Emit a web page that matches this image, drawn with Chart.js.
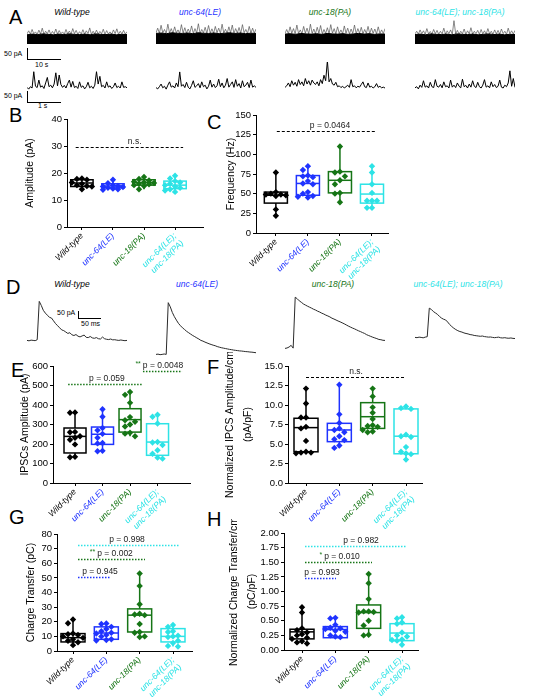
<!DOCTYPE html>
<html>
<head>
<meta charset="utf-8">
<script src="https://cdn.jsdelivr.net/npm/chart.js@4.4.0/dist/chart.umd.min.js"></script>
<style>
  body { margin: 0; width: 550px; height: 700px; position: relative; overflow: hidden; background: #fff;
         font-family: 'Liberation Sans', Arial, sans-serif; color: #000; }
  .letter { position: absolute; font-size: 20px; line-height: 20px; }
  .ttl { position: absolute; font-style: italic; font-size: 8.5px; line-height: 10px; white-space: nowrap; transform: translateX(-50%); }
  .sb { position: absolute; border-left: 1px solid #000; border-bottom: 1px solid #000; }
  .sbt { position: absolute; font-size: 7px; line-height: 8px; white-space: nowrap; }
</style>
</head>
<body>
<div class="letter" style="left:9px;top:7px">A</div>
<div class="letter" style="left:9px;top:105px">B</div>
<div class="letter" style="left:207px;top:112px">C</div>
<div class="letter" style="left:6px;top:277px">D</div>
<div class="letter" style="left:11px;top:360px">E</div>
<div class="letter" style="left:207px;top:357px">F</div>
<div class="letter" style="left:9px;top:507px">G</div>
<div class="letter" style="left:207px;top:509px">H</div>

<!-- scale bars -->
<div class="sb" style="left:27px;top:48px;width:33px;height:11px"></div>
<div class="sbt" style="left:4px;top:50px">50 pA</div>
<div class="sbt" style="left:35px;top:61px">10 s</div>
<div class="sb" style="left:27px;top:91px;width:33px;height:11px"></div>
<div class="sbt" style="left:4px;top:92px">50 pA</div>
<div class="sbt" style="left:38px;top:102px">1 s</div>
<div class="sb" style="left:78px;top:311px;width:22px;height:7px"></div>
<div class="sbt" style="left:57px;top:309px">50 pA</div>
<div class="sbt" style="left:81px;top:320px">50 ms</div>

<script>
// groups
const groupNames = ['Wild-type', 'unc-64(LE)', 'unc-18(PA)', 'unc-64(LE);  unc-18(PA)'];
const axisNames = ['Wild-type', 'unc-64(LE)', 'unc-18(PA)', ['unc-64(LE);', 'unc-18(PA)']];
const groupColors = ['#000000', '#1f33ff', '#167516', '#2de3e6'];

// A: 10 s traces (pA above band bottom) - dark core band and spikes
const aCoreWT   = [42,45,43,46,44,42,45,43,46,44,43,45,42,46,44,43,45,42,44,43];
const aCore64   = [48,50,47,51,49,48,50,47,51,49,48,50,47,49,51,48,50,47,49,48];
const aCore18   = [45,47,44,48,46,45,47,44,48,46,45,47,44,46,48,45,47,44,46,45];
const aCoreDbl  = [43,45,42,46,44,43,45,42,46,44,43,45,42,44,46,43,45,42,44,43];
const aSpikeWT  = [46,60,45,66,47,55,44,63,46,72,45,58,47,64,44,57,46,68,45,61,47,55,44,66,46,59,45,70,47,62,44,56,46,65,45,60,47,73,44,58,46,63,45,57,47,67,44,61,46,55,45,64,47,69,44,58,46,62,45,56];
const aSpike64  = [50,72,49,85,51,66,48,90,50,70,49,78,51,64,48,88,50,74,49,68,51,82,48,70,50,92,49,66,51,76,48,84,50,69,49,80,51,72,48,90,50,67,49,78,51,86,48,70,50,75,49,88,51,66,48,80,50,72,49,68];
const aSpike18  = [48,66,47,78,49,70,46,86,48,64,47,80,49,72,46,90,48,68,47,76,49,84,46,66,48,74,47,88,49,70,46,78,48,64,47,82,49,72,46,68,48,86,47,70,49,76,46,66,48,80,47,72,49,68,46,78,48,64,47,70];
const aSpikeDbl = [46,58,45,64,47,60,44,70,46,57,45,66,47,62,44,58,46,72,45,60,47,64,44,106,46,62,45,58,47,68,44,60,46,74,45,58,47,62,44,66,46,60,45,70,47,58,44,64,46,62,45,68,47,58,44,72,46,60,45,62];

// A: 1 s traces (pA above baseline)
const a1sWT  = [5,-3,8,2,76,10,4,38,6,12,0,25,50,8,15,3,20,71,12,61,18,5,14,2,22,38,6,32,4,10,0,30,5,12,-2,8,28,3,10,0,15,76,20,55,8,14,2,30,6,12,0,8,25,4,10,2,30,5,8,3];
const a1s64  = [4,-2,8,20,3,10,-3,15,30,6,12,2,25,8,75,10,18,4,28,6,-2,14,35,5,12,22,3,30,8,15,-2,10,38,6,20,4,12,42,8,25,3,15,45,6,18,30,5,40,10,22,2,35,8,15,28,4,38,6,12,5];
const a1s18  = [5,12,25,8,35,15,28,10,40,18,30,12,45,20,35,15,38,25,18,30,12,40,22,60,35,126,30,45,20,15,28,8,12,4,10,2,8,15,5,40,8,12,3,10,6,18,30,8,4,25,6,10,2,8,22,5,10,3,6,2];
const a1sDbl = [3,8,-2,15,5,35,6,12,2,28,8,4,40,10,6,18,3,30,8,12,2,38,6,15,4,25,10,3,42,8,14,2,20,6,35,10,4,28,8,2,15,40,6,12,3,30,8,18,4,10,38,6,2,15,8,25,80,10,45,5];

// D: evoked IPSC traces (pA above baseline)
const dWT  = [0,-3,2,0,-2,5,279,250,215,195,180,165,160,140,120,105,90,75,70,60,50,55,40,35,42,30,25,32,38,22,20,28,18,15,20,12,10,24,12,8,6,10,4,5,2,0,3,0,-2,0];
const d64  = [0,2,-2,0,3,0,370,340,300,270,245,222,205,190,178,165,155,145,135,127,118,110,100,95,88,82,76,71,66,62,56,52,48,45,42,39,36,34,31,29,27,25,24,22,20,19,17,16,14,12];
const d18  = [0,3,10,22,2,366,355,340,330,318,310,302,295,288,280,274,266,260,252,246,238,232,225,216,210,203,196,190,183,176,168,160,153,146,140,133,126,120,113,107,98,92,86,80,75,70,64,62,58,57];
const dDbl = [0,-2,2,0,-3,2,5,209,200,185,175,165,150,138,130,125,110,92,78,66,56,48,42,38,32,28,25,20,18,14,12,10,8,10,6,4,2,3,0,-2,0,2,-3,-4,-2,-5,-6,-4,-7,-8];

// box plot panels: points per group and box [q1, median, q3]
const bPts = [[18.0,17.8,17.5,16.5,16.0,15.5,15.2,15.0,14.0],
              [17.5,16.2,15.5,15.2,15.0,14.8,14.5,14.2,14.0,13.8],
              [18.5,17.8,17.2,16.8,16.5,16.3,16.0,15.8,15.5,15.2,14.0],
              [19.0,18.0,17.0,16.5,16.0,15.5,15.0,14.5,14.0,13.5,13.0]];
const bBox = [[15.0,16.3,17.5],[14.5,15.2,16.0],[15.5,16.5,17.5],[14.2,15.5,17.0]];

const cPts = [[77,52,50,49,49,48,47,30,22],
              [85,80,73,72,71,66,63,62,52,50,47,46,45],
              [110,78,77,72,67,62,51,50,39],
              [85,77,62,51,41,41,41,32,32]];
const cBox = [[38,48,52],[48,63,73],[51,67,78],[38,49.5,62]];

const ePts = [[362,360,262,260,240,232,222,198,134,132],
              [378,340,282,270,252,232,205,203,165,163],
              [467,452,411,338,322,314,300,290,258,253,240],
              [350,340,305,210,208,195,168,150,130,125]];
const eBox = [[154,239,282],[198,250,287],[261,325,381],[142,210,304]];

const fPts = [[12.1,10.2,8.4,8.4,7.2,7.0,5.4,4.0,3.9,3.9,3.8],
              [12.6,8.8,7.7,7.0,6.8,6.5,6.0,5.6,5.5,4.8,4.5],
              [12.1,11.1,9.7,9.0,8.2,7.4,7.3,7.2,6.8,6.6,6.5],
              [9.8,9.6,9.5,6.2,6.0,5.9,4.6,4.0,3.8,3.7,3.0]];
const fBox = [[4.0,7.1,8.3],[5.3,6.8,7.65],[7.0,8.5,10.3],[3.75,6.0,9.5]];

const gPts = [[21.5,19,12,11.5,11,10,9,8,7,6,4],
              [18.8,18.5,16.5,15,13.5,12.5,12,11,10,8,7.5,7.2],
              [53,44.5,32,25.5,25,24.5,18.5,13,12.5,10,9.5],
              [17.8,16.5,13.5,13,10.5,10,9.5,7,5.5,3.5,3]];
const gBox = [[6.2,9.1,11.9],[8,12.3,16.5],[13,24.5,28.8],[6.2,10,15.3]];

const hPts = [[0.73,0.64,0.37,0.34,0.30,0.27,0.25,0.21,0.19,0.15,0.13,0.11],
              [0.55,0.54,0.43,0.38,0.37,0.36,0.33,0.31,0.25,0.23,0.22],
              [1.30,1.14,0.87,0.66,0.66,0.65,0.64,0.50,0.42,0.26,0.25],
              [0.56,0.54,0.47,0.45,0.30,0.25,0.23,0.18,0.17,0.16,0.09]];
const hBox = [[0.19,0.31,0.355],[0.21,0.35,0.40],[0.37,0.64,0.77],[0.16,0.29,0.45]];

const FONT = "'Liberation Sans', Arial, sans-serif";

function makeCanvas(left, top, w, h) {
  const c = document.createElement('canvas');
  c.width = w; c.height = h;
  c.style.cssText = 'position:absolute;left:' + left + 'px;top:' + top + 'px;width:' + w + 'px;height:' + h + 'px';
  document.body.appendChild(c);
  return c.getContext('2d');
}

// group titles above the A and D rows
[[72, 6.7], [200, 6.7], [330, 6.7], [460, 6.7]].forEach((p, i) => {
  [p[1], 278.5].forEach(top => {
    const d = document.createElement('div');
    d.className = 'ttl';
    d.style.left = (i === 0 ? p[0] : p[0] - (top > 100 ? [0, 3, -3, 2][i] : 0)) + 'px';
    d.style.top = top + 'px';
    d.style.color = groupColors[i];
    d.textContent = groupNames[i];
    document.body.appendChild(d);
  });
});

// simple trace chart
function traceChart(left, top, w, h, yr, sets) {
  const ctx = makeCanvas(left, top, w, h);
  new Chart(ctx, {
    type: 'line',
    data: {
      datasets: sets.map(s => ({
        data: s.v.map((v, i) => ({x: i / (s.v.length - 1), y: v})),
        borderColor: s.c, borderWidth: s.w,
        backgroundColor: s.bg || 'transparent',
        fill: s.bg ? {value: 0} : false,
        pointRadius: 0, tension: 0
      }))
    },
    options: {
      responsive: false, animation: false, events: [],
      layout: {padding: 0},
      plugins: {legend: {display: false}, tooltip: {enabled: false}},
      scales: {
        x: {type: 'linear', display: false, min: 0, max: 1},
        y: {display: false, min: yr[0], max: yr[1]}
      }
    }
  });
}

const traceX = [27, 156, 285, 415];
const topRow = [[aCoreWT, aSpikeWT], [aCore64, aSpike64], [aCore18, aSpike18], [aCoreDbl, aSpikeDbl]];
topRow.forEach((t, i) => {
  traceChart(traceX[i], 20, 100, 28, [-18, 109], [
    {v: t[0], c: '#000', w: 1, bg: '#000'},
    {v: t[1], c: '#555', w: 0.7}
  ]);
});
[a1sWT, a1s64, a1s18, a1sDbl].forEach((v, i) => {
  traceChart(traceX[i], 62, 100, 30, [-16, 120], [{v: v, c: '#000', w: 1}]);
});
const dTops = [286, 300, 294, 283];
[dWT, d64, d18, dDbl].forEach((v, i) => {
  traceChart(traceX[i], dTops[i], 100, 60, [-40, 389], [{v: v, c: '#2a2a2a', w: 1}]);
});

// box plot drawing through the chart scales
const boxPlugin = {
  id: 'boxes',
  beforeDatasetsDraw(chart, args, opts) {
    const {ctx, scales: {x, y}} = chart;
    opts.stats.forEach((s, g) => {
      const vals = opts.points[g];
      const lo = Math.min(...vals), hi = Math.max(...vals);
      const xl = x.getPixelForValue(g - opts.half), xr = x.getPixelForValue(g + opts.half);
      const xc = x.getPixelForValue(g);
      const top = y.getPixelForValue(s[2]), bot = y.getPixelForValue(s[0]), mid = y.getPixelForValue(s[1]);
      ctx.save();
      ctx.strokeStyle = groupColors[g];
      ctx.lineWidth = 1.5;
      ctx.beginPath();
      ctx.moveTo(xc, y.getPixelForValue(hi)); ctx.lineTo(xc, top);
      ctx.moveTo(xc, bot); ctx.lineTo(xc, y.getPixelForValue(lo));
      ctx.stroke();
      ctx.fillStyle = '#fff';
      ctx.fillRect(xl, top, xr - xl, bot - top);
      ctx.strokeRect(xl, top, xr - xl, bot - top);
      ctx.beginPath(); ctx.moveTo(xl, mid); ctx.lineTo(xr, mid); ctx.stroke();
      ctx.restore();
    });
  }
};

// significance lines
const sigPlugin = {
  id: 'sig',
  afterDatasetsDraw(chart, args, opts) {
    const {ctx, scales: {x, y}} = chart;
    (opts.lines || []).forEach(s => {
      const py = Math.round(y.getPixelForValue(s.y)) + 0.5;
      ctx.save();
      ctx.strokeStyle = s.c;
      ctx.lineWidth = s.c === '#000' ? 1 : 1.3;
      ctx.setLineDash(s.c === '#000' ? [3, 2] : [1.5, 1.5]);
      ctx.beginPath();
      ctx.moveTo(x.getPixelForValue(s.a), py);
      ctx.lineTo(x.getPixelForValue(s.b), py);
      ctx.stroke();
      ctx.setLineDash([]);
      ctx.font = '8.5px ' + FONT;
      ctx.fillStyle = '#222';
      ctx.textAlign = 'center';
      const tx = x.getPixelForValue(s.tx);
      ctx.fillText(s.t, tx, py - 4);
      if (s.star) {
        const w = ctx.measureText(s.t).width;
        ctx.font = '7px ' + FONT;
        ctx.fillStyle = s.c;
        ctx.textAlign = 'right';
        ctx.fillText(s.star, tx - w / 2 - 2, py - 6);
      }
      ctx.restore();
    });
  }
};

// beeswarm-like horizontal placement of the points
function swarm(vals, g, pxY, pxX) {
  const placed = [];
  return vals.map(v => {
    const py = v * pxY;
    let best = 0, bestD = -1;
    for (const c of [0, -1, 1, -2, 2]) {
      const px = c * 5;
      const d = placed.length ? Math.min(...placed.map(p => Math.hypot(p[0] - px, p[1] - py))) : 99;
      if (d >= 5) { best = px; bestD = d; break; }
      if (d > bestD) { bestD = d; best = px; }
    }
    placed.push([best, py]);
    return {x: g + best / pxX, y: v};
  });
}

function boxPanel(p) {
  const [L, R, T, B] = p.area;
  const padTop = 14, padRight = 8, xh = 60;
  const ctx = makeCanvas(L - p.W, T - padTop, (R - L) + p.W + padRight, padTop + (B - T) + xh);
  const pxY = (B - T) / (p.y[1] - p.y[0]);
  const pxX = (R - L) / (p.x[1] - p.x[0]);
  new Chart(ctx, {
    type: 'scatter',
    data: {
      datasets: p.pts.map((vals, g) => ({
        data: swarm(vals, g, pxY, pxX),
        backgroundColor: groupColors[g], borderWidth: 0,
        pointStyle: 'rectRot', pointRadius: 3.2
      }))
    },
    options: {
      responsive: false, animation: false, events: [],
      layout: {padding: {top: padTop, right: padRight, left: 0, bottom: 0}},
      plugins: {
        legend: {display: false}, tooltip: {enabled: false},
        boxes: {stats: p.box, points: p.pts, half: p.half},
        sig: {lines: p.sig}
      },
      scales: {
        x: {
          type: 'linear', min: p.x[0], max: p.x[1],
          afterBuildTicks: s => { s.ticks = [0, 1, 2, 3].map(v => ({value: v})); },
          afterFit: s => { s.height = xh; },
          border: {display: true, color: '#000', width: 1},
          grid: {display: true, drawOnChartArea: false, drawTicks: true, tickLength: 3, color: '#000'},
          ticks: {
            autoSkip: false, minRotation: 45, maxRotation: 45, padding: 1,
            font: {family: FONT, size: 8.5, style: 'italic'},
            color: c => groupColors[c.index],
            callback: v => axisNames[v]
          }
        },
        y: {
          min: p.y[0], max: p.y[1],
          afterFit: s => { s.width = p.W; },
          border: {display: true, color: '#000', width: 1},
          grid: {display: true, drawOnChartArea: false, drawTicks: true, tickLength: 3, color: '#000'},
          ticks: {
            stepSize: p.y[2], padding: 2, color: '#000',
            font: {family: FONT, size: 9.5},
            callback: v => v.toFixed(p.dec)
          },
          title: {
            display: true, text: p.title, color: '#000', padding: 0,
            font: {family: FONT, size: 10.5, lineHeight: p.lh}
          }
        }
      }
    },
    plugins: [boxPlugin, sigPlugin]
  });
}

const GREEN = groupColors[2], BLUE = groupColors[1], CYAN = groupColors[3];

boxPanel({area: [67, 203, 119, 227], x: [-0.48, 3.9], y: [0, 40, 5], dec: 0, W: 43, lh: 1.2, half: 0.36,
  title: 'Amplitude (pA)', pts: bPts, box: bBox,
  sig: [{a: -0.2, b: 3.26, y: 29.5, c: '#000', t: 'n.s.', tx: 1.7}]});

boxPanel({area: [256, 388, 115, 233], x: [-0.62, 3.5], y: [0, 150, 25], dec: 0, W: 31, lh: 1.2, half: 0.36,
  title: 'Frequency (Hz)', pts: cPts, box: cBox,
  sig: [{a: 0.03, b: 3.1, y: 130, c: '#000', t: 'p = 0.0464', tx: 1.69}]});

boxPanel({area: [53, 190, 366, 483], x: [-0.8, 4.18], y: [0, 600, 100], dec: 0, W: 34, lh: 1.2, half: 0.4,
  title: 'IPSCs Amplitude (pA)', pts: ePts, box: eBox,
  sig: [{a: -0.25, b: 2.47, y: 510, c: GREEN, t: 'p = 0.059', tx: 1.16},
        {a: 2.47, b: 3.89, y: 574, c: GREEN, t: 'p = 0.0048', tx: 3.2, star: '**'}]});

boxPanel({area: [288, 422, 366, 483], x: [-0.54, 3.48], y: [0, 15, 2.5], dec: 1, W: 67, lh: 1.714, half: 0.36,
  title: ['Normalized IPCS Amplitude/cm', '(pA/pF)'], pts: fPts, box: fBox,
  sig: [{a: 0, b: 3, y: 13.6, c: '#000', t: 'n.s.', tx: 1.5}]});

boxPanel({area: [57, 192, 534, 651], x: [-0.48, 3.57], y: [0, 80, 10], dec: 0, W: 32, lh: 1.2, half: 0.36,
  title: 'Charge Transfer (pC)', pts: gPts, box: gBox,
  sig: [{a: 0.15, b: 3.2, y: 72.5, c: CYAN, t: 'p = 0.998', tx: 1.62},
        {a: 0.15, b: 2.16, y: 62.7, c: GREEN, t: 'p = 0.002', tx: 1.26, star: '**'},
        {a: 0.15, b: 1.11, y: 50.8, c: BLUE, t: 'p = 0.945', tx: 0.81}]});

boxPanel({area: [284, 418, 533, 650], x: [-0.54, 3.48], y: [0, 2, 0.25], dec: 2, W: 59, lh: 1.714, half: 0.36,
  title: ['Normalized Charge Transfer/cm', '(pC/pF)'], pts: hPts, box: hBox,
  sig: [{a: 0.09, b: 3.15, y: 1.77, c: CYAN, t: 'p = 0.982', tx: 1.77},
        {a: 0.09, b: 2.1, y: 1.51, c: GREEN, t: 'p = 0.010', tx: 1.2, star: '*'},
        {a: 0.09, b: 1.02, y: 1.23, c: BLUE, t: 'p = 0.993', tx: 0.6}]});
</script>
</body>
</html>
